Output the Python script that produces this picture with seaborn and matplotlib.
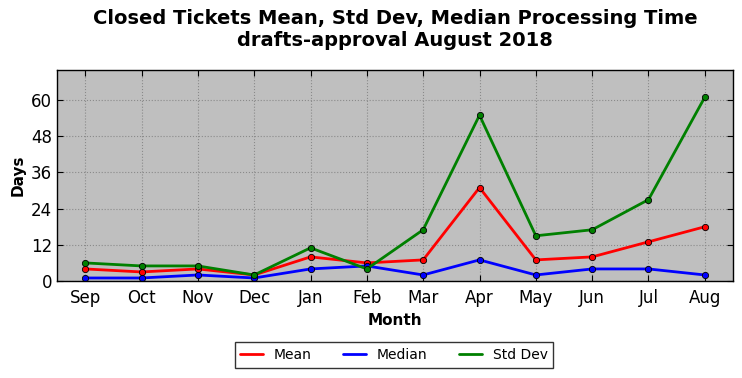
import matplotlib
matplotlib.use("Agg")
import matplotlib.pyplot as plt
import seaborn as sns
import pandas as pd
from matplotlib.lines import Line2D

months = ["Sep", "Oct", "Nov", "Dec", "Jan", "Feb", "Mar", "Apr", "May", "Jun", "Jul", "Aug"]
mean_vals = [4, 3, 4, 2, 8, 6, 7, 31, 7, 8, 13, 18]
median_vals = [1, 1, 2, 1, 4, 5, 2, 7, 2, 4, 4, 2]
std_vals = [6, 5, 5, 2, 11, 4, 17, 55, 15, 17, 27, 61]
series = ["Mean", "Median", "Std Dev"]
colors = {"Mean": "#ff0000", "Median": "#0000ff", "Std Dev": "#008000"}

df = pd.concat([
    pd.DataFrame({"Month": months, "Days": v, "Series": s, "x": range(len(months))})
    for s, v in zip(series, [mean_vals, median_vals, std_vals])
])

sns.set_style("ticks")
plt.rcParams['font.family'] = ['DejaVu Sans']
plt.rcParams['text.color'] = 'black'
plt.rcParams['axes.labelcolor'] = 'black'
plt.rcParams['xtick.color'] = 'black'
plt.rcParams['ytick.color'] = 'black'

fig = plt.figure(figsize=(7.42, 3.78), dpi=100)
ax = fig.add_axes([57/742, 1-281/378, (733-57)/742, (281-70)/378])
ax.set_facecolor("#bfbfbf")

sns.lineplot(data=df, x="x", y="Days", hue="Series", palette=colors, marker="o",
             markersize=4.5, markeredgecolor="black", markeredgewidth=0.6,
             linewidth=2, ax=ax, legend=False)

ax.set_xticks(range(len(months)))
ax.set_xticklabels(months)
ax.set_xlim(-0.5, len(months) - 0.5)
ax.set_ylim(0, 70)
ax.set_yticks([0, 12, 24, 36, 48, 60])
ax.grid(True, linestyle=":", color="#8a8a8a", linewidth=0.8)
ax.tick_params(direction="in", top=True, right=True, labelsize=12, length=4, color="black",
               labelcolor="black")
ax.tick_params(axis="x", pad=6)
for sp in ax.spines.values():
    sp.set_linewidth(1.0)
    sp.set_color("black")
ax.set_xlabel("Month", fontsize=11, fontweight="bold", color="black")
ax.set_ylabel("Days", fontsize=11, fontweight="bold", color="black")

fig.suptitle("Closed Tickets Mean, Std Dev, Median Processing Time\ndrafts-approval August 2018",
             fontsize=14, fontweight="bold", x=395/742, y=0.975, color="black")

handles = [Line2D([0], [0], color=colors[s], linewidth=2) for s in series]
leg = fig.legend(handles, series, loc="center", bbox_to_anchor=(394/742, 1-355/378),
                 ncol=3, fontsize=10, frameon=True, fancybox=False, edgecolor="black",
                 columnspacing=2.3, handlelength=1.6, handletextpad=0.8)
leg.get_frame().set_linewidth(1.0)
for t in leg.get_texts():
    t.set_color("black")

fig.savefig("out.png", dpi=100)
